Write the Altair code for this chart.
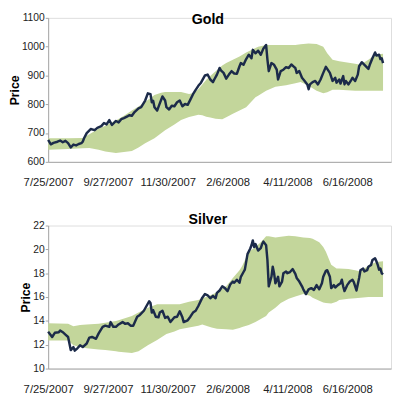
import json
import altair as alt
import pandas as pd

# ---- axis labels ----
tick_days = [0, 45, 90, 135, 180, 225]
tick_labels = ["7/25/2007", "9/27/2007", "11/30/2007", "2/6/2008", "4/11/2008", "6/16/2008"]

# ---- Gold price (trading-day index, price) ----
gold_days = [0, 2, 4, 7, 9, 11, 13, 15, 17, 19, 21, 23, 25, 26, 27, 29, 32, 35, 37, 40,
             42, 44, 46, 48, 51, 53, 55, 57, 60, 61, 63, 65, 68, 70, 73, 75, 77, 78, 79, 80,
             82, 84, 86, 88, 89, 91, 93, 95, 97, 99, 101, 103, 105, 107, 109, 111, 113, 115, 118, 120,
             122, 124, 125, 127, 129, 130, 132, 134, 136, 138, 140, 142, 144, 145, 147, 149, 151, 153, 154, 156,
             158, 160, 162, 164, 165, 166, 168, 170, 172, 173, 175, 177, 179, 181, 183, 185, 186, 187, 189, 191,
             193, 195, 196, 197, 199, 201, 203, 205, 207, 209, 210, 212, 214, 216, 217, 219, 220, 222, 223, 224,
             226, 228, 229, 231, 233, 234, 236, 238, 241, 242, 244, 246, 247, 249, 250, 251, 252]
gold_price = [676, 661, 666, 670, 674, 668, 673, 665, 650, 660, 657, 662, 665, 670, 682, 700, 714, 710, 718, 724,
              735, 730, 745, 728, 742, 737, 748, 752, 759, 762, 760, 773, 786, 790, 813, 838, 835, 807, 812, 790,
              778, 803, 827, 813, 790, 782, 795, 793, 807, 813, 793, 801, 798, 816, 835, 850, 864, 875, 900, 903,
              886, 877, 886, 903, 926, 918, 909, 889, 903, 915, 907, 906, 932, 943, 937, 957, 972, 960, 989, 977,
              986, 972, 994, 1006, 955, 915, 943, 937, 920, 886, 915, 920, 929, 926, 938, 930, 926, 909, 915, 892,
              881, 869, 852, 869, 877, 881, 869, 886, 909, 930, 923, 909, 881, 892, 875, 886, 872, 898, 869, 881,
              869, 884, 892, 881, 903, 932, 946, 937, 923, 937, 960, 980, 969, 972, 957, 960, 943]

gold_band_days = [0, 15, 26, 31, 38, 43, 51, 57, 63, 68, 73, 80, 85, 88, 95, 100, 106, 110, 113, 116,
                  119, 122, 126, 131, 134, 139, 144, 149, 156, 158, 164, 171, 179, 186, 190, 196, 202, 207, 210, 214,
                  219, 231, 235, 241, 246, 252]
gold_upper = [682, 682, 683, 696, 715, 725, 744, 760, 778, 792, 808, 832, 840, 843, 843, 843, 836, 840, 852, 869,
              885, 898, 915, 935, 943, 955, 966, 980, 995, 1000, 1006, 1006, 1006, 1006, 1008, 1011, 1009, 1000, 977, 955,
              949, 941, 937, 955, 972, 975]
gold_lower = [642, 645, 647, 648, 642, 636, 631, 634, 638, 650, 665, 682, 699, 710, 730, 745, 756, 760, 764, 762,
              757, 754, 750, 748, 755, 767, 778, 790, 824, 830, 847, 861, 866, 873, 877, 864, 847, 838, 842, 850,
              850, 847, 847, 847, 847, 847]

# ---- Silver price ----
silver_days = [0, 1, 3, 5, 8, 9, 11, 13, 15, 16, 17, 19, 20, 22, 24, 26, 29, 31, 33, 36,
               38, 41, 43, 46, 47, 49, 51, 53, 56, 58, 60, 62, 64, 67, 69, 72, 74, 76, 77, 78,
               79, 81, 83, 84, 86, 88, 90, 92, 95, 97, 99, 101, 102, 105, 107, 109, 111, 113, 116, 118,
               120, 122, 124, 126, 127, 129, 131, 133, 135, 137, 139, 140, 142, 144, 145, 147, 148, 150, 152, 153,
               154, 155, 156, 158, 160, 161, 162, 164, 165, 166, 168, 169, 170, 171, 173, 174, 176, 177, 179, 180,
               182, 184, 186, 187, 189, 191, 192, 194, 196, 198, 200, 202, 204, 206, 207, 209, 210, 212, 213, 215,
               216, 218, 220, 221, 222, 223, 225, 227, 229, 230, 232, 234, 235, 237, 238, 240, 241, 243, 244, 246,
               247, 248, 249, 250, 251, 252]
silver_price = [13.1, 12.95, 12.65, 13.0, 13.05, 13.2, 13.05, 12.85, 12.65, 12.1, 11.55, 11.8, 11.5, 11.7, 11.95, 11.8, 12.1, 12.6, 12.65, 12.5,
                12.95, 13.5, 13.6, 13.5, 13.9, 13.5, 13.5, 13.7, 13.9, 13.75, 13.8, 13.6, 13.6, 14.35, 14.5, 14.85, 15.25, 15.65, 15.5, 14.7,
                14.9, 14.35, 14.3, 14.7, 14.85, 14.25, 14.35, 13.9, 14.3, 14.35, 14.8, 14.3, 13.9, 14.05, 14.35, 14.7, 14.85, 15.25, 15.95, 16.25,
                16.15, 15.9, 16.1, 15.9, 16.35, 16.55, 16.9, 16.75, 16.5, 17.05, 17.3, 17.2, 17.45, 17.2, 17.7, 18.1, 18.3, 19.6, 20.05, 20.35,
                20.75, 20.2, 20.45, 19.9, 20.1, 20.45, 20.65, 20.35, 19.1, 16.9, 17.7, 18.55, 18.0, 17.15, 17.7, 16.9, 17.3, 18.0, 18.15, 18.0,
                18.1, 18.35, 17.95, 17.6, 17.3, 16.9, 16.65, 16.25, 16.65, 16.75, 16.6, 17.0, 16.65, 17.15, 17.7, 18.2, 18.25, 17.7, 16.75, 17.0,
                16.8, 17.0, 17.15, 17.45, 16.9, 16.5, 17.0, 17.3, 17.45, 17.25, 16.55, 17.6, 18.25, 18.4, 18.15, 18.25, 18.55, 18.7, 19.1, 19.25,
                19.0, 18.7, 18.3, 18.4, 18.0, 17.9]

silver_band_days = [0, 15, 19, 24, 29, 38, 43, 51, 53, 63, 68, 75, 82, 89, 95, 99, 106, 113, 116, 120,
                    123, 127, 134, 139, 144, 146, 151, 156, 160, 164, 166, 171, 175, 181, 186, 192, 197, 199, 204, 207,
                    209, 213, 217, 219, 226, 231, 235, 241, 247, 252]
silver_upper = [13.8, 13.75, 13.55, 13.65, 13.7, 13.75, 13.85, 14.0, 14.05, 14.4, 14.7, 15.1, 15.4, 15.4, 15.4, 15.4, 15.6, 15.75, 15.9, 16.05,
                16.2, 16.4, 16.9, 17.6, 18.25, 18.6, 19.8, 20.2, 20.6, 21.1, 21.1, 21.0, 21.05, 21.15, 21.1, 21.0, 20.95, 20.9, 20.6, 20.2,
                19.8, 18.7, 18.4, 18.4, 18.35, 18.25, 18.15, 18.65, 18.95, 19.0]
silver_lower = [12.35, 12.35, 11.95, 11.8, 11.7, 11.6, 11.55, 11.45, 11.42, 11.3, 11.45, 11.95, 12.4, 12.9, 13.1, 13.3, 13.45, 13.6, 13.7, 13.56,
                13.45, 13.34, 13.3, 13.26, 13.4, 13.48, 13.65, 13.9, 14.15, 14.4, 14.7, 15.1, 15.5, 15.85, 16.05, 16.25, 16.1, 15.95, 15.7, 15.55,
                15.5, 15.45, 15.6, 15.75, 15.85, 15.9, 15.95, 16.0, 16.0, 16.0]

GREEN = "#c3d69b"
NAVY = "#1c2b4a"
AXIS = "#a6a6a6"
TEXT = "#222222"
FONT = "Liberation Sans"

label_expr = "{}[indexof({}, datum.value)]".format(json.dumps(tick_labels), json.dumps(tick_days))


def panel(name, pdays, prices, bdays, upper, lower, ymin, ymax, ystep, tdy, height):
    pdf = pd.DataFrame({"day": pdays, "price": prices})
    bdf = pd.DataFrame({"day": bdays, "upper": upper, "lower": lower})
    xenc = alt.X(
        "day:Q",
        scale=alt.Scale(domain=[0, 258], nice=False, zero=False),
        axis=alt.Axis(values=tick_days, labelExpr=label_expr, title=None, grid=False,
                      ticks=False, labelFlush=False, labelOverlap=False, labelPadding=15,
                      labelFontSize=11.5, labelFont=FONT, labelColor=TEXT,
                      domainColor=AXIS, domainWidth=1),
    )
    yscale = alt.Scale(domain=[ymin, ymax], nice=False, zero=False)
    yaxis = alt.Axis(values=list(range(ymin, ymax + 1, ystep)), format="d", title="Price", grid=False,
                     tickSize=3, tickColor=AXIS, domainColor=AXIS, labelPadding=1,
                     labelFontSize=10.5, labelFont=FONT, labelColor=TEXT,
                     titleFontSize=12.5, titleFont=FONT, titleFontWeight="bold",
                     titleColor="black", titlePadding=0)
    band = alt.Chart(bdf).mark_area(color=GREEN, opacity=1).encode(
        x=xenc, y=alt.Y("lower:Q", scale=yscale, axis=yaxis), y2="upper:Q")
    line = alt.Chart(pdf).mark_line(color=NAVY, strokeWidth=2.5, strokeJoin="round").encode(
        x=xenc, y=alt.Y("price:Q", scale=yscale, axis=yaxis))
    return alt.layer(band, line).properties(
        width=350, height=height,
        title=alt.TitleParams(text=name, fontSize=14.5, fontWeight="bold", font=FONT,
                              color="black", anchor="middle", frame="group",
                              baseline="alphabetic", offset=0, dx=-12, dy=tdy),
    )


gold = panel("Gold", gold_days, gold_price, gold_band_days, gold_upper, gold_lower,
             600, 1100, 100, 26, 147)
silver = panel("Silver", silver_days, silver_price, silver_band_days, silver_upper, silver_lower,
               10, 22, 2, 18, 146)

chart = alt.vconcat(gold, silver, spacing=24).configure_view(stroke=None).configure(
    background="white", padding=0)

chart.save("out.html", embed_options={"renderer": "svg", "actions": False})
